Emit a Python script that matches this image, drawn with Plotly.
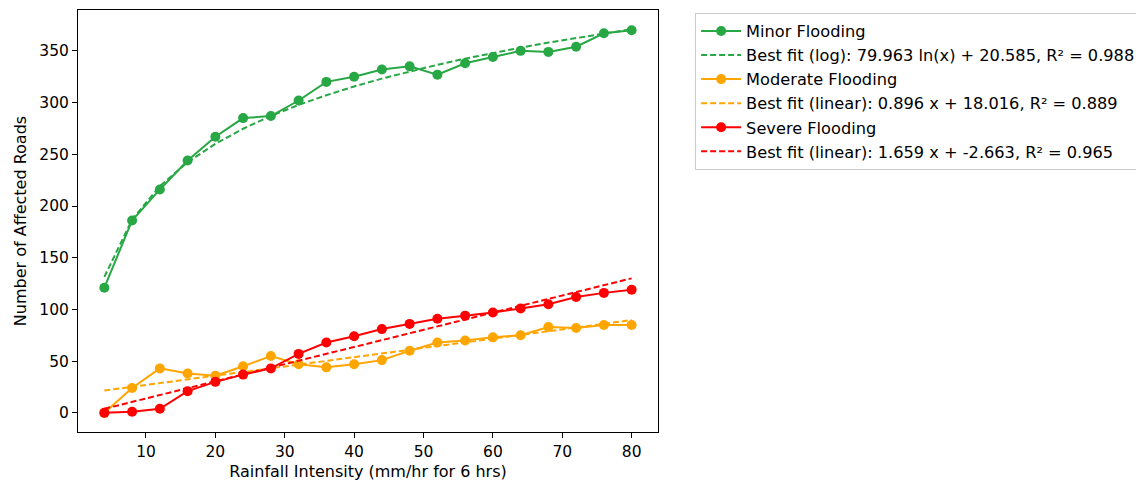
import numpy as np
import plotly.graph_objects as go

rainfall = [4, 8, 12, 16, 20, 24, 28, 32, 36, 40, 44, 48, 52, 56, 60, 64, 68, 72, 76, 80]
minor = [121, 186, 216, 244, 267, 285, 287, 302, 320, 325, 332, 335, 327, 338, 344, 350, 349, 354, 367, 370]
moderate = [0, 24, 43, 38, 36, 45, 55, 47, 44, 47, 51, 60, 68, 70, 73, 75, 83, 82, 85, 85]
severe = [0, 1, 4, 21, 30, 37, 43, 57, 68, 74, 81, 86, 91, 94, 97, 101, 105, 112, 116, 119]

minor_log_a, minor_log_b, minor_r2 = 79.963, 20.585, 0.988
moderate_a, moderate_b, moderate_r2 = 0.896, 18.016, 0.889
severe_a, severe_b, severe_r2 = 1.659, -2.663, 0.965

GREEN = "#28a745"
ORANGE = "#FFA500"
RED = "#FF0000"

x = np.array(rainfall, dtype=float)
fig = go.Figure()

def add_series(y, color, name):
    fig.add_trace(go.Scatter(x=rainfall, y=y, mode="lines+markers", name=name,
                             line=dict(color=color, width=2),
                             marker=dict(color=color, size=10)))

def add_fit(y, color, name):
    fig.add_trace(go.Scatter(x=rainfall, y=y, mode="lines", name=name,
                             line=dict(color=color, width=2, dash="6px,3px")))

add_series(minor, GREEN, "Minor Flooding")
add_fit(minor_log_a * np.log(x) + minor_log_b, GREEN,
        f"Best fit (log): {minor_log_a:.3f} ln(x) + {minor_log_b:.3f}, R² = {minor_r2:.3f}")
add_series(moderate, ORANGE, "Moderate Flooding")
add_fit(moderate_a * x + moderate_b, ORANGE,
        f"Best fit (linear): {moderate_a:.3f} x + {moderate_b:.3f}, R² = {moderate_r2:.3f}")
add_series(severe, RED, "Severe Flooding")
add_fit(severe_a * x + severe_b, RED,
        f"Best fit (linear): {severe_a:.3f} x + {severe_b:.3f}, R² = {severe_r2:.3f}")

axis_common = dict(showline=True, linecolor="black", linewidth=1, mirror=True,
                   ticks="outside", ticklen=5, tickcolor="black", showgrid=False,
                   zeroline=False, tickfont=dict(size=15.5, color="black"),
                   title_font=dict(size=16, color="black"))

fig.update_layout(
    width=1144, height=485,
    margin=dict(l=70, r=494, t=2, b=61),
    paper_bgcolor="white", plot_bgcolor="white",
    font=dict(family="DejaVu Sans", color="black"),
    xaxis=dict(range=[0.2, 83.8], tickvals=[10, 20, 30, 40, 50, 60, 70, 80],
               title=dict(text="Rainfall Intensity (mm/hr for 6 hrs)", standoff=6), **axis_common),
    yaxis=dict(range=[-18.5, 389.5], tickvals=[0, 50, 100, 150, 200, 250, 300, 350],
               title=dict(text="Number of Affected Roads", standoff=8), **axis_common),
    legend=dict(x=1.064, y=0.993, xanchor="left", yanchor="top",
                bordercolor="#cccccc", borderwidth=1, bgcolor="white",
                font=dict(size=16.2, color="black"), tracegroupgap=0,
                itemwidth=40),
    showlegend=True,
)

fig.write_html("out.html")
